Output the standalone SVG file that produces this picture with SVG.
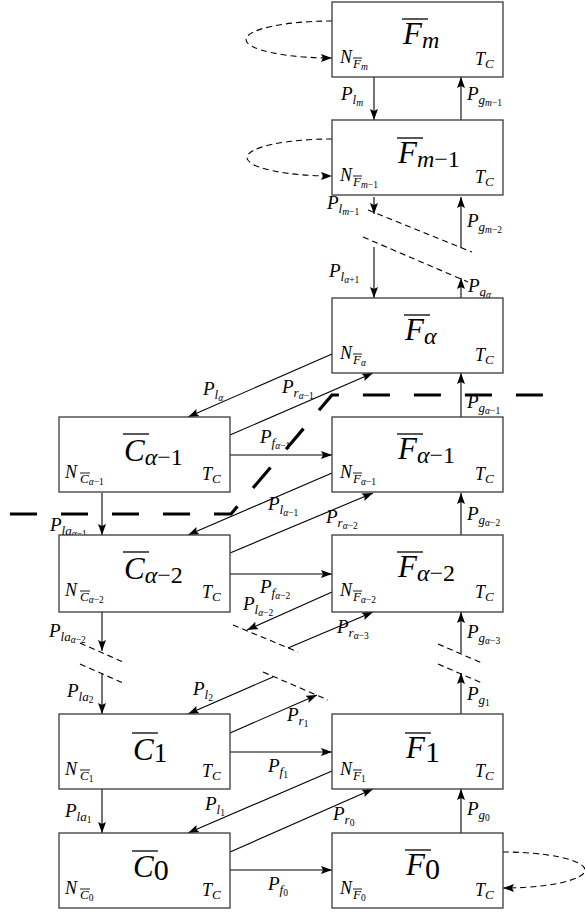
<svg xmlns="http://www.w3.org/2000/svg" width="585" height="916" viewBox="0 0 585 916" font-family="'Liberation Serif', serif">
<defs>
<style>
.box{fill:#fff;stroke:#3a3a3a;stroke-width:1.3}
.t{font-family:'Liberation Serif',serif;font-style:italic;fill:#000}
.big{font-size:31px}
.sb{font-size:24px}
.sbd{font-size:30px}
.lab{font-size:19px}
.nl{font-size:18px}
.s1{font-size:13px}
.s2{font-size:9.5px}
.up{font-style:normal}
.ov{stroke:#000;stroke-width:1.3}
.ov2{stroke:#000;stroke-width:0.9}
.c{stroke:#000;stroke-width:1.1;fill:none}
.arr{marker-end:url(#ah)}
.d{stroke-dasharray:6 4}
.thick{stroke:#000;stroke-width:3.2;stroke-dasharray:27 24;fill:none}
</style>
<marker id="ah" markerUnits="userSpaceOnUse" markerWidth="12" markerHeight="9" refX="11" refY="4" orient="auto">
<path d="M0,0 L11,4 L0,8 L2,4 z" fill="#000"/>
</marker>
</defs>
<rect width="585" height="916" fill="#fff"/>

<g id="connectors">
<line class="c arr" x1="374" y1="77" x2="374" y2="120"/>
<line class="c arr" x1="461" y1="120" x2="461" y2="77"/>
<line class="c arr" x1="374" y1="197" x2="374" y2="214"/>
<line class="c arr" x1="461" y1="248" x2="461" y2="197"/>
<line class="c arr" x1="374" y1="247" x2="374" y2="298"/>
<line class="c arr" x1="461" y1="298" x2="461" y2="278"/>
<line class="c arr" x1="461" y1="417" x2="461" y2="373"/>
<line class="c arr" x1="461" y1="535" x2="461" y2="493"/>
<line class="c arr" x1="461" y1="653" x2="461" y2="612"/>
<line class="c arr" x1="461" y1="714" x2="461" y2="673"/>
<line class="c arr" x1="461" y1="833" x2="461" y2="789"/>
<line class="c arr" x1="102" y1="493" x2="102" y2="535"/>
<line class="c arr" x1="102" y1="612" x2="102" y2="651"/>
<line class="c arr" x1="102" y1="673" x2="102" y2="714"/>
<line class="c arr" x1="102" y1="789" x2="102" y2="833"/>
<line class="c arr" x1="230" y1="455" x2="332" y2="455"/>
<line class="c arr" x1="230" y1="574" x2="332" y2="574"/>
<line class="c arr" x1="230" y1="752" x2="332" y2="752"/>
<line class="c arr" x1="230" y1="870" x2="332" y2="870"/>
<line class="c arr" x1="332" y1="354" x2="188" y2="417"/>
<line class="c arr" x1="230" y1="435" x2="373" y2="373"/>
<line class="c arr" x1="332" y1="473" x2="188" y2="535"/>
<line class="c arr" x1="230" y1="553" x2="373" y2="493"/>
<line class="c arr" x1="332" y1="592" x2="247" y2="630"/>
<line class="c arr" x1="288" y1="648" x2="373" y2="612"/>
<line class="c arr" x1="273" y1="677" x2="188" y2="714"/>
<line class="c arr" x1="230" y1="733" x2="317" y2="695"/>
<line class="c arr" x1="332" y1="771" x2="188" y2="833"/>
<line class="c arr" x1="230" y1="852" x2="373" y2="789"/>
<path class="c d arr" d="M332,21 A86,18.5 0 0 0 332,58"/>
<path class="c d arr" d="M332,139 A85,18.5 0 0 0 332,176"/>
<path class="c d arr" d="M503,852 A82,18 0 0 1 503,888"/>
<line class="c d" x1="368" y1="210" x2="472" y2="252"/>
<line class="c d" x1="363" y1="237" x2="468" y2="282"/>
<line class="c d" x1="438" y1="644" x2="482" y2="663"/>
<line class="c d" x1="438" y1="664" x2="482" y2="683"/>
<line class="c d" x1="80" y1="643" x2="123" y2="662"/>
<line class="c d" x1="80" y1="664" x2="123" y2="683"/>
<line class="c d" x1="233" y1="625" x2="298" y2="652"/>
<line class="c d" x1="263" y1="672" x2="328" y2="700"/>
<path class="thick" d="M10,514 H231 L332,395 H556"/>
</g>

<g id="labels">
<text class="t lab" x="341" y="100">P<tspan class="s1" dy="4">l</tspan><tspan class="s2" dy="2">m</tspan></text>
<text class="t lab" x="467" y="100">P<tspan class="s1" dy="4">g</tspan><tspan class="s2" dy="2">m<tspan class="up">−1</tspan></tspan></text>
<text class="t lab" x="327" y="209">P<tspan class="s1" dy="4">l</tspan><tspan class="s2" dy="2">m<tspan class="up">−1</tspan></tspan></text>
<text class="t lab" x="467" y="227">P<tspan class="s1" dy="4">g</tspan><tspan class="s2" dy="2">m<tspan class="up">−2</tspan></tspan></text>
<text class="t lab" x="329" y="277">P<tspan class="s1" dy="4">l</tspan><tspan class="s2" dy="2">α<tspan class="up">+1</tspan></tspan></text>
<text class="t lab" x="468" y="292">P<tspan class="s1" dy="4">g</tspan><tspan class="s2" dy="2">α</tspan></text>
<text class="t lab" x="203" y="395">P<tspan class="s1" dy="4">l</tspan><tspan class="s2" dy="2">α</tspan></text>
<text class="t lab" x="282" y="393">P<tspan class="s1" dy="4">r</tspan><tspan class="s2" dy="2">α<tspan class="up">−1</tspan></tspan></text>
<text class="t lab" x="467" y="408">P<tspan class="s1" dy="4">g</tspan><tspan class="s2" dy="2">α<tspan class="up">−1</tspan></tspan></text>
<text class="t lab" x="260" y="443">P<tspan class="s1" dy="4">f</tspan><tspan class="s2" dy="2">α<tspan class="up">−1</tspan></tspan></text>
<text class="t lab" x="268" y="510">P<tspan class="s1" dy="4">l</tspan><tspan class="s2" dy="2">α<tspan class="up">−1</tspan></tspan></text>
<text class="t lab" x="50" y="531">P<tspan class="s1" dy="4">la</tspan><tspan class="s2" dy="2">α<tspan class="up">−1</tspan></tspan></text>
<text class="t lab" x="326" y="523">P<tspan class="s1" dy="4">r</tspan><tspan class="s2" dy="2">α<tspan class="up">−2</tspan></tspan></text>
<text class="t lab" x="467" y="520">P<tspan class="s1" dy="4">g</tspan><tspan class="s2" dy="2">α<tspan class="up">−2</tspan></tspan></text>
<text class="t lab" x="260" y="593">P<tspan class="s1" dy="4">f</tspan><tspan class="s2" dy="2">α<tspan class="up">−2</tspan></tspan></text>
<text class="t lab" x="243" y="610">P<tspan class="s1" dy="4">l</tspan><tspan class="s2" dy="2">α<tspan class="up">−2</tspan></tspan></text>
<text class="t lab" x="337" y="633">P<tspan class="s1" dy="4">r</tspan><tspan class="s2" dy="2">α<tspan class="up">−3</tspan></tspan></text>
<text class="t lab" x="467" y="638">P<tspan class="s1" dy="4">g</tspan><tspan class="s2" dy="2">α<tspan class="up">−3</tspan></tspan></text>
<text class="t lab" x="49" y="637">P<tspan class="s1" dy="4">la</tspan><tspan class="s2" dy="2">α<tspan class="up">−2</tspan></tspan></text>
<text class="t lab" x="67" y="697">P<tspan class="s1" dy="4">la</tspan><tspan class="s2 up" dy="2">2</tspan></text>
<text class="t lab" x="193" y="695">P<tspan class="s1" dy="4">l</tspan><tspan class="s2 up" dy="2">2</tspan></text>
<text class="t lab" x="287" y="721">P<tspan class="s1" dy="4">r</tspan><tspan class="s2 up" dy="2">1</tspan></text>
<text class="t lab" x="467" y="700">P<tspan class="s1" dy="4">g</tspan><tspan class="s2 up" dy="2">1</tspan></text>
<text class="t lab" x="268" y="772">P<tspan class="s1" dy="4">f</tspan><tspan class="s2 up" dy="2">1</tspan></text>
<text class="t lab" x="65" y="817">P<tspan class="s1" dy="4">la</tspan><tspan class="s2 up" dy="2">1</tspan></text>
<text class="t lab" x="205" y="810">P<tspan class="s1" dy="4">l</tspan><tspan class="s2 up" dy="2">1</tspan></text>
<text class="t lab" x="333" y="820">P<tspan class="s1" dy="4">r</tspan><tspan class="s2 up" dy="2">0</tspan></text>
<text class="t lab" x="467" y="815">P<tspan class="s1" dy="4">g</tspan><tspan class="s2 up" dy="2">0</tspan></text>
<text class="t lab" x="268" y="890">P<tspan class="s1" dy="4">f</tspan><tspan class="s2 up" dy="2">0</tspan></text>
</g>

<g id="node-Fm">
<rect class="box" x="332" y="2" width="171" height="75"/>
<text class="t big" x="403" y="44">F<tspan class="sb" dy="4">m</tspan></text>
<line class="ov" x1="402" y1="19" x2="428" y2="19"/>
<text class="t nl" x="340" y="63">N<tspan class="s1" x="353" dy="5">F</tspan><tspan class="s2" dy="2">m</tspan></text>
<line class="ov2" x1="353" y1="58" x2="362" y2="58"/>
<text class="t nl" x="475" y="65">T<tspan class="s1" dy="3">C</tspan></text>
</g>

<g id="node-Fm1">
<rect class="box" x="332" y="120" width="171" height="75"/>
<text class="t big" x="398" y="163">F<tspan class="sb" dy="4">m<tspan class="up">−1</tspan></tspan></text>
<line class="ov" x1="397" y1="138" x2="423" y2="138"/>
<text class="t nl" x="340" y="181">N<tspan class="s1" x="353" dy="5">F</tspan><tspan class="s2" dy="2">m<tspan class="up">−1</tspan></tspan></text>
<line class="ov2" x1="353" y1="176" x2="362" y2="176"/>
<text class="t nl" x="475" y="183">T<tspan class="s1" dy="3">C</tspan></text>
</g>

<g id="node-Fa">
<rect class="box" x="332" y="298" width="171" height="75"/>
<text class="t big" x="405" y="340">F<tspan class="sb" dy="4">α</tspan></text>
<line class="ov" x1="404" y1="315" x2="430" y2="315"/>
<text class="t nl" x="340" y="359">N<tspan class="s1" x="353" dy="5">F</tspan><tspan class="s2" dy="2">α</tspan></text>
<line class="ov2" x1="353" y1="354" x2="362" y2="354"/>
<text class="t nl" x="475" y="361">T<tspan class="s1" dy="3">C</tspan></text>
</g>

<g id="node-Fa1">
<rect class="box" x="332" y="417" width="171" height="75"/>
<text class="t big" x="398" y="459">F<tspan class="sb" dy="4">α<tspan class="up">−1</tspan></tspan></text>
<line class="ov" x1="397" y1="434" x2="423" y2="434"/>
<text class="t nl" x="340" y="478">N<tspan class="s1" x="353" dy="5">F</tspan><tspan class="s2" dy="2">α<tspan class="up">−1</tspan></tspan></text>
<line class="ov2" x1="353" y1="473" x2="362" y2="473"/>
<text class="t nl" x="475" y="480">T<tspan class="s1" dy="3">C</tspan></text>
</g>

<g id="node-Fa2">
<rect class="box" x="332" y="535" width="171" height="77"/>
<text class="t big" x="398" y="577">F<tspan class="sb" dy="4">α<tspan class="up">−2</tspan></tspan></text>
<line class="ov" x1="397" y1="552" x2="423" y2="552"/>
<text class="t nl" x="340" y="596">N<tspan class="s1" x="353" dy="5">F</tspan><tspan class="s2" dy="2">α<tspan class="up">−2</tspan></tspan></text>
<line class="ov2" x1="353" y1="591" x2="362" y2="591"/>
<text class="t nl" x="475" y="598">T<tspan class="s1" dy="3">C</tspan></text>
</g>

<g id="node-F1">
<rect class="box" x="332" y="714" width="171" height="75"/>
<text class="t big" x="406" y="758">F<tspan class="sbd up" dy="4">1</tspan></text>
<line class="ov" x1="405" y1="733" x2="431" y2="733"/>
<text class="t nl" x="340" y="775">N<tspan class="s1" x="353" dy="5">F</tspan><tspan class="s2 up" dy="2">1</tspan></text>
<line class="ov2" x1="353" y1="770" x2="362" y2="770"/>
<text class="t nl" x="475" y="777">T<tspan class="s1" dy="3">C</tspan></text>
</g>

<g id="node-F0">
<rect class="box" x="332" y="833" width="171" height="75"/>
<text class="t big" x="406" y="875">F<tspan class="sbd up" dy="4">0</tspan></text>
<line class="ov" x1="405" y1="850" x2="431" y2="850"/>
<text class="t nl" x="340" y="894">N<tspan class="s1" x="353" dy="5">F</tspan><tspan class="s2 up" dy="2">0</tspan></text>
<line class="ov2" x1="353" y1="889" x2="362" y2="889"/>
<text class="t nl" x="475" y="896">T<tspan class="s1" dy="3">C</tspan></text>
</g>

<g id="node-Ca1">
<rect class="box" x="59" y="417" width="171" height="75"/>
<text class="t big" x="124" y="461">C<tspan class="sb" dy="4">α<tspan class="up">−1</tspan></tspan></text>
<line class="ov" x1="123" y1="434" x2="149" y2="434"/>
<text class="t nl" x="65" y="478">N<tspan class="s1" x="80" dy="5">C</tspan><tspan class="s2" dy="2">α<tspan class="up">−1</tspan></tspan></text>
<line class="ov2" x1="80" y1="473" x2="90" y2="473"/>
<text class="t nl" x="202" y="480">T<tspan class="s1" dy="3">C</tspan></text>
</g>

<g id="node-Ca2">
<rect class="box" x="59" y="535" width="171" height="77"/>
<text class="t big" x="124" y="579">C<tspan class="sb" dy="4">α<tspan class="up">−2</tspan></tspan></text>
<line class="ov" x1="123" y1="552" x2="149" y2="552"/>
<text class="t nl" x="65" y="596">N<tspan class="s1" x="80" dy="5">C</tspan><tspan class="s2" dy="2">α<tspan class="up">−2</tspan></tspan></text>
<line class="ov2" x1="80" y1="591" x2="90" y2="591"/>
<text class="t nl" x="202" y="598">T<tspan class="s1" dy="3">C</tspan></text>
</g>

<g id="node-C1">
<rect class="box" x="59" y="714" width="171" height="75"/>
<text class="t big" x="133" y="760">C<tspan class="up" style="font-size:27px" dy="2">1</tspan></text>
<line class="ov" x1="132" y1="733" x2="158" y2="733"/>
<text class="t nl" x="65" y="775">N<tspan class="s1" x="80" dy="5">C</tspan><tspan class="s2 up" dy="2">1</tspan></text>
<line class="ov2" x1="80" y1="770" x2="90" y2="770"/>
<text class="t nl" x="202" y="777">T<tspan class="s1" dy="3">C</tspan></text>
</g>

<g id="node-C0">
<rect class="box" x="59" y="833" width="171" height="75"/>
<text class="t big" x="133" y="877">C<tspan class="sbd up" dy="3">0</tspan></text>
<line class="ov" x1="132" y1="851" x2="158" y2="851"/>
<text class="t nl" x="65" y="894">N<tspan class="s1" x="80" dy="5">C</tspan><tspan class="s2 up" dy="2">0</tspan></text>
<line class="ov2" x1="80" y1="889" x2="90" y2="889"/>
<text class="t nl" x="202" y="896">T<tspan class="s1" dy="3">C</tspan></text>
</g>
</svg>
